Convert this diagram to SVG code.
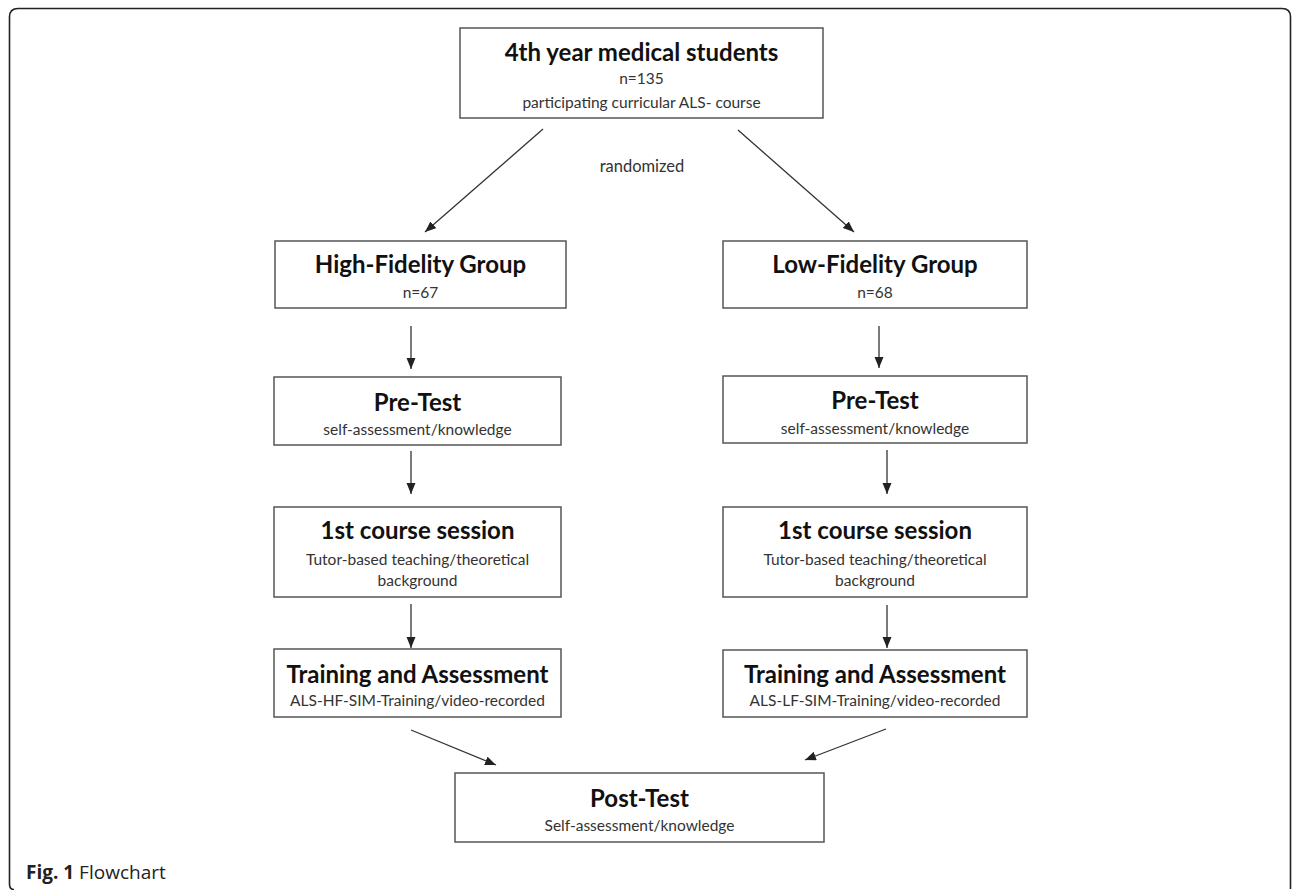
<svg xmlns="http://www.w3.org/2000/svg" width="1293" height="890" viewBox="0 0 1293 890">
<defs>
<marker id="ah" markerUnits="userSpaceOnUse" markerWidth="12" markerHeight="10" refX="11" refY="4.5" orient="auto">
<path d="M0,0 L11,4.5 L0,9 z" fill="#222"/>
</marker>
<style>
.box{fill:#fff;stroke:#555;stroke-width:1.5}
.t{font-family:Lato,"Liberation Sans",sans-serif;font-weight:bold;font-size:24px;fill:#111;text-anchor:middle}
.s{font-family:Lato,"Liberation Sans",sans-serif;font-size:15.5px;fill:#333;text-anchor:middle}
.c{stroke:#333;stroke-width:1.3;fill:none;marker-end:url(#ah)}
.frame{fill:none;stroke:#222;stroke-width:1.6}
</style>
</defs>
<rect width="1293" height="890" fill="#fff"/>
<path class="frame" d="M14,889.5 Q9.5,889.5 9.5,884 L9.5,17 Q9.5,8.5 18,8.5 L1282,8.5 Q1290.5,8.5 1290.5,17 L1290.5,889"/>

<g id="top">
<rect class="box" x="460" y="28" width="363" height="90"/>
<text class="t" x="641.5" y="61">4th year medical students</text>
<text class="s" x="641.5" y="84">n=135</text>
<text class="s" x="641.5" y="108">participating curricular ALS- course</text>
</g>
<text id="randomized" class="s" x="642" y="172" style="font-size:16.5px">randomized</text>

<g id="hf">
<rect class="box" x="275" y="241" width="291" height="67"/>
<text class="t" x="420.5" y="273">High-Fidelity Group</text>
<text class="s" x="420.5" y="298">n=67</text>
</g>
<g id="lf">
<rect class="box" x="723" y="241" width="304" height="67"/>
<text class="t" x="875" y="273">Low-Fidelity Group</text>
<text class="s" x="875" y="298">n=68</text>
</g>

<g id="preL">
<rect class="box" x="274" y="377" width="287" height="68"/>
<text class="t" x="417.5" y="411">Pre-Test</text>
<text class="s" x="417.5" y="435">self-assessment/knowledge</text>
</g>
<g id="preR">
<rect class="box" x="723" y="376" width="304" height="67"/>
<text class="t" x="875" y="409">Pre-Test</text>
<text class="s" x="875" y="434">self-assessment/knowledge</text>
</g>

<g id="c1L">
<rect class="box" x="274" y="507" width="287" height="90"/>
<text class="t" x="417.5" y="539">1st course session</text>
<text class="s" x="417.5" y="565">Tutor-based teaching/theoretical</text>
<text class="s" x="417.5" y="586">background</text>
</g>
<g id="c1R">
<rect class="box" x="723" y="507" width="304" height="90"/>
<text class="t" x="875" y="539">1st course session</text>
<text class="s" x="875" y="565">Tutor-based teaching/theoretical</text>
<text class="s" x="875" y="586">background</text>
</g>

<g id="trL">
<rect class="box" x="274" y="649" width="287" height="68"/>
<text class="t" x="417.5" y="683">Training and Assessment</text>
<text class="s" x="417.5" y="706">ALS-HF-SIM-Training/video-recorded</text>
</g>
<g id="trR">
<rect class="box" x="723" y="650" width="304" height="67"/>
<text class="t" x="875" y="683">Training and Assessment</text>
<text class="s" x="875" y="706">ALS-LF-SIM-Training/video-recorded</text>
</g>

<g id="post">
<rect class="box" x="455" y="773" width="369" height="69"/>
<text class="t" x="639.5" y="807">Post-Test</text>
<text class="s" x="639.5" y="831">Self-assessment/knowledge</text>
</g>

<g id="connectors">
<line class="c" x1="543" y1="129" x2="425" y2="232"/>
<line class="c" x1="738" y1="130" x2="854" y2="232"/>
<line class="c" x1="411" y1="326" x2="411" y2="369"/>
<line class="c" x1="879" y1="326" x2="879" y2="368"/>
<line class="c" x1="411" y1="451" x2="411" y2="494"/>
<line class="c" x1="887" y1="450" x2="887" y2="494"/>
<line class="c" x1="411" y1="604" x2="411" y2="648"/>
<line class="c" x1="887" y1="605" x2="887" y2="648"/>
<line class="c" x1="411" y1="730" x2="496" y2="765"/>
<line class="c" x1="886" y1="729" x2="805" y2="760"/>
</g>

<text id="caption" x="26" y="879" font-family="'Open Sans','Noto Sans',sans-serif" font-size="19" fill="#222"><tspan font-weight="bold">Fig. 1</tspan> Flowchart</text>
</svg>
